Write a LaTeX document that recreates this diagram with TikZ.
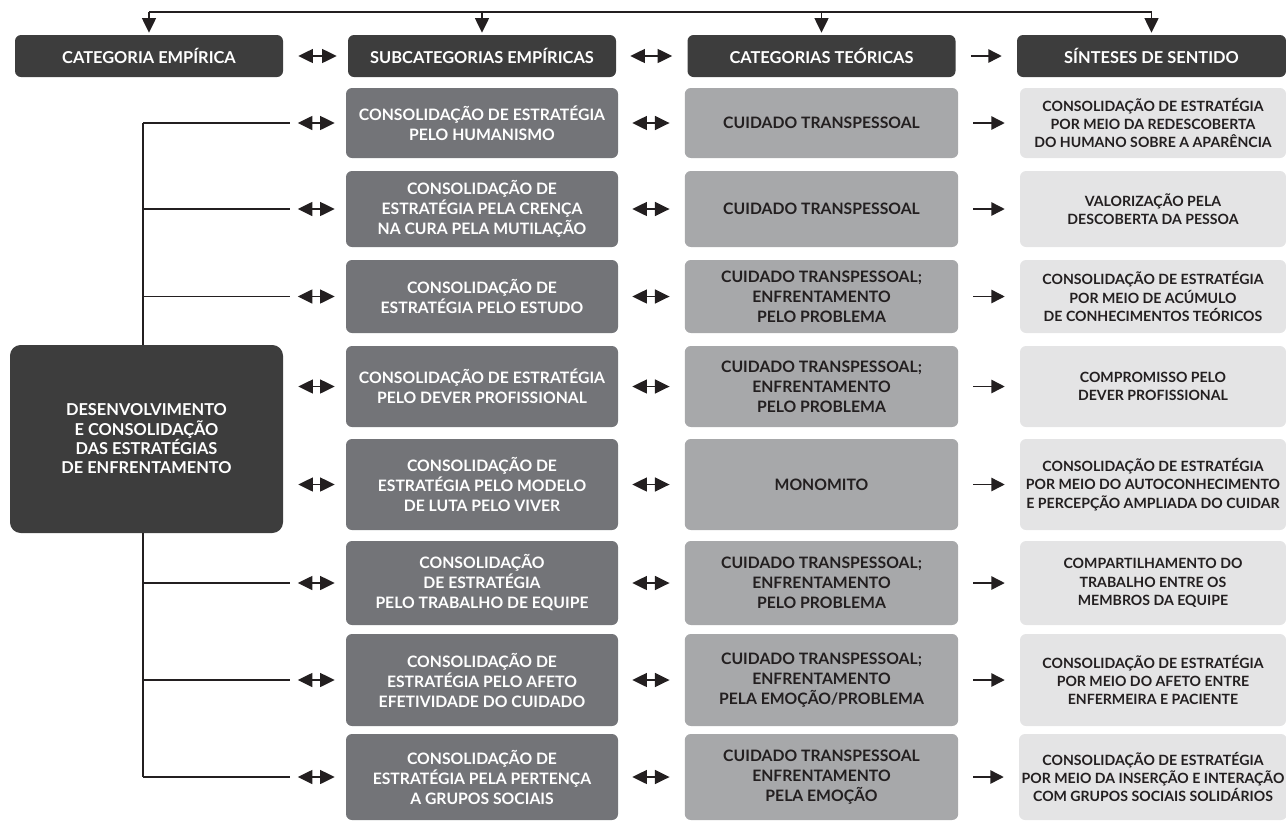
\documentclass[tikz,border=0pt]{standalone}
\usepackage{fontspec}
\setmainfont{Lato}
\usetikzlibrary{arrows.meta, positioning}
\definecolor{hdrgray}{RGB}{61,61,61}
\definecolor{subgray}{RGB}{115,116,120}
\definecolor{teogray}{RGB}{167,168,170}
\definecolor{singray}{RGB}{228,228,229}
\definecolor{inkdark}{RGB}{35,31,32}

\begin{document}
\begin{tikzpicture}[x=0.75pt, y=-0.75pt, line join=miter,
    box/.style={rounded corners=4.5pt, align=center, inner sep=2pt,
                font=\bfseries\fontsize{11.8}{15}\selectfont},
    hdr/.style={box, fill=hdrgray, text=white, minimum width=201pt, minimum height=31.5pt,
                font=\bfseries\fontsize{12.3}{15}\selectfont},
    sub/.style={box, fill=subgray, text=white, minimum width=204pt},
    teo/.style={box, fill=teogray, text=inkdark, minimum width=205pt},
    sin/.style={box, fill=singray, text=inkdark, minimum width=199.5pt,
                font=\bfseries\fontsize{10.6}{13.8}\selectfont},
    tree/.style={draw=inkdark, line width=1.1pt},
    dbl/.style={inkdark, line width=1.1pt,
                {Triangle[length=11pt,width=10.5pt]}-{Triangle[length=11pt,width=10.5pt]}},
    sgl/.style={inkdark, line width=1.1pt, -{Triangle[length=10pt,width=10pt]}},
    down/.style={inkdark, line width=1.1pt, -{Triangle[length=11pt,width=10.5pt]}, shorten >=1.5pt}]
  \useasboundingbox (0,0) rectangle (1286,822);

  % column heads
  \node[hdr] (h1) at (149,56)    {CATEGORIA EMPÍRICA};
  \node[hdr] (h2) at (482,56)    {SUBCATEGORIAS EMPÍRICAS};
  \node[hdr] (h3) at (821.5,56)  {CATEGORIAS TEÓRICAS};
  \node[hdr, minimum width=201.75pt] (h4) at (1151.5,56) {SÍNTESES DE SENTIDO};

  % empirical category
  \node[box, fill=hdrgray, text=white, rounded corners=8pt, minimum width=204.75pt,
        minimum height=141pt, font=\bfseries\fontsize{12.3}{14.5}\selectfont] (big) at (146.5,439)
        {DESENVOLVIMENTO\\E CONSOLIDAÇÃO\\DAS ESTRATÉGIAS\\DE ENFRENTAMENTO};

  % subcategories
  \node[sub, minimum height=52.5pt]  (sub1) at (482,123)   {CONSOLIDAÇÃO DE ESTRATÉGIA\\PELO HUMANISMO};
  \node[sub, minimum height=57pt]    (sub2) at (482,209)   {CONSOLIDAÇÃO DE\\ESTRATÉGIA PELA CRENÇA\\NA CURA PELA MUTILAÇÃO};
  \node[sub, minimum height=54.75pt] (sub3) at (482,296.5) {CONSOLIDAÇÃO DE\\ESTRATÉGIA PELO ESTUDO};
  \node[sub, minimum height=60.75pt] (sub4) at (482,386.5) {CONSOLIDAÇÃO DE ESTRATÉGIA\\PELO DEVER PROFISSIONAL};
  \node[sub, minimum height=68.25pt] (sub5) at (482,484.5) {CONSOLIDAÇÃO DE\\ESTRATÉGIA PELO MODELO\\DE LUTA PELO VIVER};
  \node[sub, minimum height=63pt]    (sub6) at (482,583)   {CONSOLIDAÇÃO\\DE ESTRATÉGIA\\PELO TRABALHO DE EQUIPE};
  \node[sub, minimum height=69pt]    (sub7) at (482,680)   {CONSOLIDAÇÃO DE\\ESTRATÉGIA PELO AFETO\\EFETIVIDADE DO CUIDADO};
  \node[sub, minimum height=64.5pt]  (sub8) at (482,777)   {CONSOLIDAÇÃO DE\\ESTRATÉGIA PELA PERTENÇA\\A GRUPOS SOCIAIS};

  % theoretical categories
  \node[teo, minimum height=52.5pt]  (teo1) at (821.5,123)   {CUIDADO TRANSPESSOAL};
  \node[teo, minimum height=57pt]    (teo2) at (821.5,209)   {CUIDADO TRANSPESSOAL};
  \node[teo, minimum height=54.75pt] (teo3) at (821.5,296.5) {CUIDADO TRANSPESSOAL;\\ENFRENTAMENTO\\PELO PROBLEMA};
  \node[teo, minimum height=60.75pt] (teo4) at (821.5,386.5) {CUIDADO TRANSPESSOAL;\\ENFRENTAMENTO\\PELO PROBLEMA};
  \node[teo, minimum height=68.25pt] (teo5) at (821.5,484.5) {MONOMITO};
  \node[teo, minimum height=63pt]    (teo6) at (821.5,583)   {CUIDADO TRANSPESSOAL;\\ENFRENTAMENTO\\PELO PROBLEMA};
  \node[teo, minimum height=69pt]    (teo7) at (821.5,680)   {CUIDADO TRANSPESSOAL;\\ENFRENTAMENTO\\PELA EMOÇÃO/PROBLEMA};
  \node[teo, minimum height=64.5pt]  (teo8) at (821.5,777)   {CUIDADO TRANSPESSOAL\\ENFRENTAMENTO\\PELA EMOÇÃO};

  % syntheses
  \node[sin, minimum height=52.5pt]  (sin1) at (1153,123)   {CONSOLIDAÇÃO DE ESTRATÉGIA\\POR MEIO DA REDESCOBERTA\\DO HUMANO SOBRE A APARÊNCIA};
  \node[sin, minimum height=57pt]    (sin2) at (1153,209)   {VALORIZAÇÃO PELA\\DESCOBERTA DA PESSOA};
  \node[sin, minimum height=54.75pt] (sin3) at (1153,296.5) {CONSOLIDAÇÃO DE ESTRATÉGIA\\POR MEIO DE ACÚMULO\\DE CONHECIMENTOS TEÓRICOS};
  \node[sin, minimum height=60.75pt] (sin4) at (1153,386.5) {COMPROMISSO PELO\\DEVER PROFISSIONAL};
  \node[sin, minimum height=68.25pt] (sin5) at (1153,484.5) {CONSOLIDAÇÃO DE ESTRATÉGIA\\POR MEIO DO AUTOCONHECIMENTO\\E PERCEPÇÃO AMPLIADA DO CUIDAR};
  \node[sin, minimum height=63pt]    (sin6) at (1153,583)   {COMPARTILHAMENTO DO\\TRABALHO ENTRE OS\\MEMBROS DA EQUIPE};
  \node[sin, minimum height=69pt]    (sin7) at (1153,680)   {CONSOLIDAÇÃO DE ESTRATÉGIA\\POR MEIO DO AFETO ENTRE\\ENFERMEIRA E PACIENTE};
  \node[sin, minimum height=64.5pt]  (sin8) at (1153,777)   {CONSOLIDAÇÃO DE ESTRATÉGIA\\POR MEIO DA INSERÇÃO E INTERAÇÃO\\COM GRUPOS SOCIAIS SOLIDÁRIOS};

  % top bracket
  \coordinate (top) at (0,12);
  \draw[tree] (h1.north |- top) -- (h4.north |- top);
  \foreach \h in {h1,h2,h3,h4}
    \draw[down] (\h.north |- top) -- (\h.north);

  \draw[dbl, shorten <=11.25pt, shorten >=8.25pt] (h1) -- (h2);
  \draw[dbl, shorten <=10.5pt, shorten >=11.25pt] (h2) -- (h3);
  \draw[sgl, shorten <=11.25pt, shorten >=11.25pt] (h3) -- (h4);

  % tree from the empirical category
  \foreach \r in {1,2,3,6,7,8}
    \coordinate (b\r) at (sub\r.west -| 143,0);
  \draw[tree] (b1) -- (big.north -| b1);
  \draw[tree] (big.south -| b8) -- (b8);
  \foreach \r in {1,2,3,6,7,8}{
    \draw[tree] (b\r) -- ([xshift=-42pt]sub\r.west);
    \draw[dbl] ([xshift=-36pt]sub\r.west) -- ([xshift=-8.25pt]sub\r.west);
  }
  \foreach \r in {4,5}
    \draw[dbl, shorten <=11.25pt, shorten >=8.25pt] (big.east |- sub\r.west) -- (sub\r.west);

  \foreach \r in {1,...,8}{
    \draw[dbl, shorten <=10.5pt, shorten >=11.25pt] (sub\r) -- (teo\r);
    \draw[sgl, shorten <=11.25pt, shorten >=11.25pt] (teo\r) -- (sin\r);
  }
\end{tikzpicture}
\end{document}
